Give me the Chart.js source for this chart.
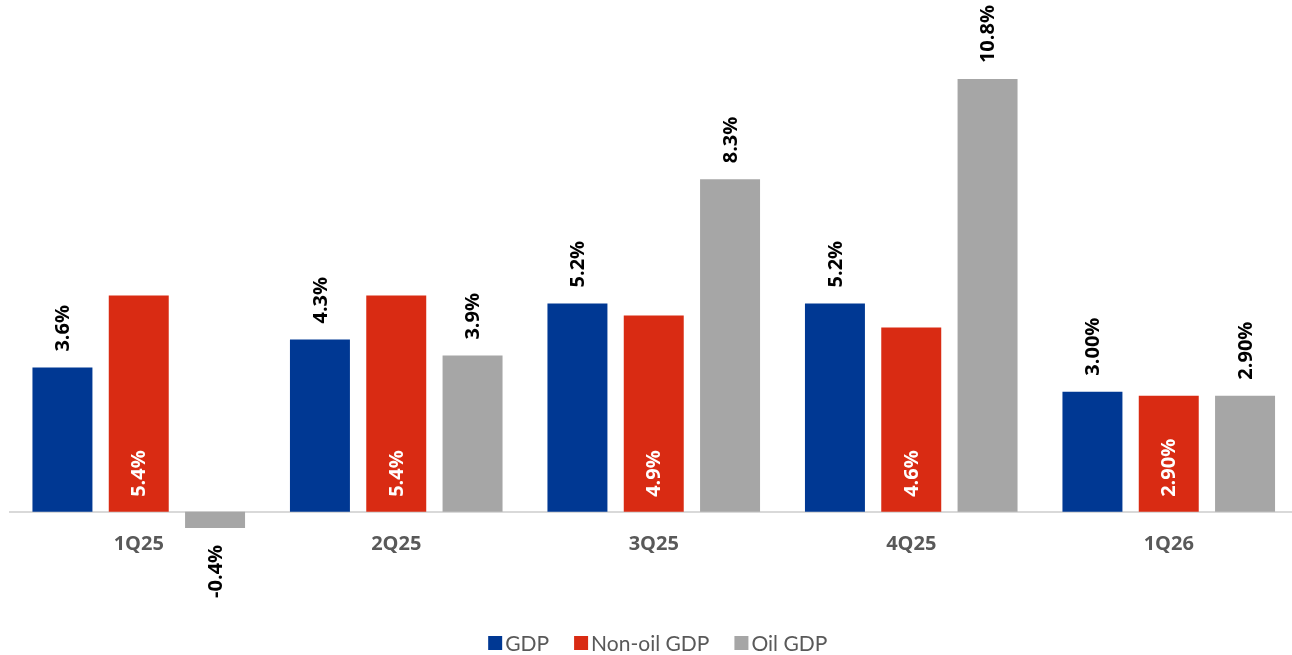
<!DOCTYPE html>
<html>
<head>
<meta charset="utf-8">
<script src="https://cdn.jsdelivr.net/npm/chart.js@4.4.1/dist/chart.umd.min.js"></script>
<style>
  html, body { margin: 0; padding: 0; background: #fff; overflow: hidden; }
  #wrap { width: 1298px; height: 655px; }
</style>
</head>
<body>
<div id="wrap"><canvas id="c" width="1298" height="655"></canvas></div>
<script>
const categories = ['1Q25', '2Q25', '3Q25', '4Q25', '1Q26'];
const seriesNames = ['GDP', 'Non-oil GDP', 'Oil GDP'];
const gdpValues = [3.6, 4.3, 5.2, 5.2, 3.0];
const nonOilValues = [5.4, 5.4, 4.9, 4.6, 2.9];
const oilValues = [-0.4, 3.9, 8.3, 10.8, 2.9];
const gdpLabels = ['3.6%', '4.3%', '5.2%', '5.2%', '3.00%'];
const nonOilLabels = ['5.4%', '5.4%', '4.9%', '4.6%', '2.90%'];
const oilLabels = ['-0.4%', '3.9%', '8.3%', '10.8%', '2.90%'];

const colors = ['#003893', '#D92B13', '#A6A6A6'];
const labelSets = [gdpLabels, nonOilLabels, oilLabels];
const FONT = 'Lato, "Open Sans", sans-serif';
const BOLD_FONT = '"Open Sans", Lato, sans-serif';

const dataLabelPlugin = {
  id: 'dataLabels',
  afterDatasetsDraw(chart) {
    const ctx = chart.ctx;
    ctx.save();
    ctx.font = 'bold 20px ' + BOLD_FONT;
    ctx.textBaseline = 'middle';
    chart.data.datasets.forEach((ds, di) => {
      const meta = chart.getDatasetMeta(di);
      meta.data.forEach((bar, i) => {
        const text = labelSets[di][i];
        const v = ds.data[i];
        let ax, ay, align, color;
        ax = bar.x;
        if (di === 1) {
          ay = bar.base - 15; align = 'left'; color = '#FFFFFF';
        } else if (v >= 0) {
          ay = bar.y - 16; align = 'left'; color = '#000000';
        } else {
          ay = bar.y + 17; align = 'right'; color = '#000000';
        }
        ctx.save();
        ctx.translate(ax + 1, ay);
        ctx.rotate(-Math.PI / 2);
        ctx.textAlign = align;
        ctx.fillStyle = color;
        ctx.fillText(text, 0, 0);
        ctx.restore();
      });
    });
    ctx.restore();
  }
};

const legendPlugin = {
  id: 'customLegend',
  afterDraw(chart) {
    const ctx = chart.ctx;
    const area = chart.chartArea;
    ctx.save();
    ctx.font = '21px ' + FONT;
    ctx.textBaseline = 'middle';
    const box = 14, gapBoxText = 3, gapItems = 25;
    const widths = seriesNames.map(n => box + gapBoxText + ctx.measureText(n).width);
    const total = widths.reduce((a, b) => a + b, 0) + gapItems * (seriesNames.length - 1);
    let x = (area.left + area.right) / 2 - total / 2 + 4;
    const yc = 643;
    seriesNames.forEach((n, i) => {
      ctx.fillStyle = colors[i];
      ctx.fillRect(x, yc - box / 2, box, box);
      ctx.fillStyle = '#595959';
      ctx.textAlign = 'left';
      ctx.fillText(n, x + box + gapBoxText, yc + 1);
      x += widths[i] + gapItems;
    });
    ctx.restore();
  }
};

const datasets = [gdpValues, nonOilValues, oilValues].map((vals, i) => ({
  label: seriesNames[i],
  data: vals,
  backgroundColor: colors[i],
  borderWidth: 0,
  categoryPercentage: 0.889,
  barPercentage: 0.786
}));

new Chart(document.getElementById('c'), {
  type: 'bar',
  data: { labels: categories, datasets },
  options: {
    responsive: false,
    animation: false,
    layout: { padding: { top: 31, bottom: 63, left: 10, right: 0.5 } },
    plugins: {
      legend: { display: false },
      tooltip: { enabled: false }
    },
    scales: {
      x: {
        position: { y: 0 },
        grid: { display: false, drawTicks: false },
        border: { display: true, color: '#D9D9D9', width: 2 },
        ticks: {
          color: '#595959',
          font: { family: BOLD_FONT, size: 20, weight: 'bold' },
          padding: 20
        }
      },
      y: {
        display: false,
        min: -2,
        max: 12
      }
    }
  },
  plugins: [dataLabelPlugin, legendPlugin]
});
</script>
</body>
</html>
